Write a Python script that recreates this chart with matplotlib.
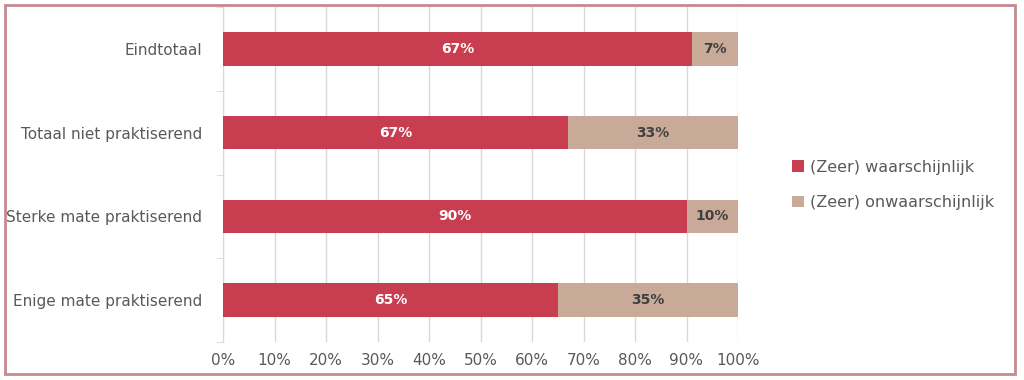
import matplotlib.pyplot as plt
from matplotlib.patches import Rectangle

# data (bottom to top)
categories = ['Enige mate praktiserend', 'Sterke mate praktiserend',
              'Totaal niet praktiserend', 'Eindtotaal']
waarschijnlijk = [65, 90, 67, 91]
onwaarschijnlijk = [35, 10, 33, 9]
labels_w = ['65%', '90%', '67%', '67%']
labels_o = ['35%', '10%', '33%', '7%']
xticks = list(range(0, 101, 10))

red = '#c83e50'
beige = '#c9aa98'
grey = '#595959'

plt.rcParams['font.family'] = ['DejaVu Sans']

fig = plt.figure(figsize=(10.24, 3.8), dpi=100)
ax = fig.add_axes([223/1024, 38/380, 515/1024, 335/380])

y = list(range(len(categories)))
b1 = ax.barh(y, waarschijnlijk, height=0.4, color=red, label='(Zeer) waarschijnlijk', zorder=3)
b2 = ax.barh(y, onwaarschijnlijk, left=waarschijnlijk, height=0.4, color=beige,
             label='(Zeer) onwaarschijnlijk', zorder=3)

for i in y:
    ax.text(waarschijnlijk[i] / 2, i, labels_w[i], ha='center', va='center',
            color='white', fontsize=10, fontweight='bold', zorder=4)
    ax.text(waarschijnlijk[i] + onwaarschijnlijk[i] / 2, i, labels_o[i], ha='center',
            va='center', color='#404040', fontsize=10, fontweight='bold', zorder=4)

ax.set_xlim(0, 100)
ax.set_ylim(-0.5, 3.5)
ax.set_xticks(xticks)
ax.set_xticklabels([f'{t}%' for t in xticks])
ax.set_yticks(y)
ax.set_yticklabels(categories)
ax.set_yticks([-0.5, 0.5, 1.5, 2.5, 3.5], minor=True)
ax.grid(axis='x', color='#d9d9d9', linewidth=1, zorder=0)

for sp in ['top', 'right', 'bottom']:
    ax.spines[sp].set_visible(False)
ax.spines['left'].set_color('#d9d9d9')
ax.tick_params(axis='x', length=0, pad=8, colors=grey, labelsize=11)
ax.tick_params(axis='y', which='major', length=0, pad=15, colors=grey, labelsize=11)
ax.tick_params(axis='y', which='minor', length=5, color='#d9d9d9')

fig.legend(handles=[b1, b2], loc='center left', bbox_to_anchor=(778/1024, 1 - 185/380),
           frameon=False, fontsize=11.5, handlelength=0.7, handleheight=0.7,
           handletextpad=0.4, labelspacing=1.3, labelcolor=grey)

# outer frame
fig.patches.append(Rectangle((5/1024, 6/380), 1010/1024, 369/380, transform=fig.transFigure,
                             fill=False, edgecolor='#c48a8f', linewidth=2))

fig.savefig('out.png', dpi=100)
